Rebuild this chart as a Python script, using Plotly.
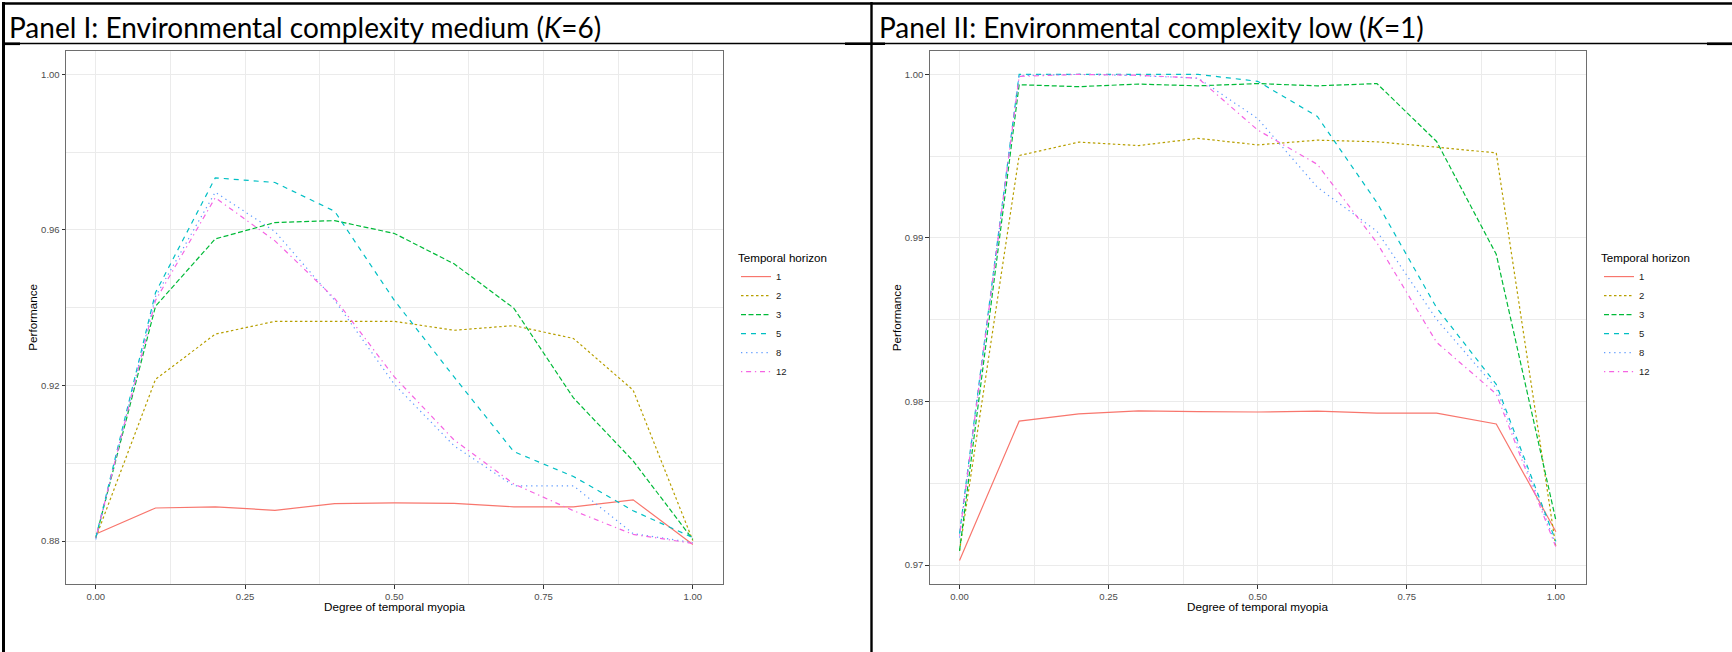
import plotly.graph_objects as go

# Degree of temporal myopia (x values shared by every series)
myopia = [0.0, 0.1, 0.2, 0.3, 0.4, 0.5, 0.6, 0.7, 0.8, 0.9, 1.0]

horizons = ["1", "2", "3", "5", "8", "12"]

# Panel I: environmental complexity medium (K=6)
k6_h1 = [0.8818, 0.8885, 0.8888, 0.8879, 0.8896, 0.8898, 0.8897, 0.8888, 0.8888, 0.8906, 0.8791]
k6_h2 = [0.8809, 0.9216, 0.9332, 0.9365, 0.9365, 0.9365, 0.9342, 0.9354, 0.9321, 0.9188, 0.8801]
k6_h3 = [0.8809, 0.9404, 0.9577, 0.9619, 0.9624, 0.9591, 0.9513, 0.9399, 0.9168, 0.9006, 0.8804]
k6_h5 = [0.8809, 0.9439, 0.9734, 0.9722, 0.9648, 0.9419, 0.9222, 0.9030, 0.8966, 0.8878, 0.8809]
k6_h8 = [0.8804, 0.9429, 0.9697, 0.9596, 0.9419, 0.9203, 0.9045, 0.8942, 0.8942, 0.8819, 0.8796]
k6_h12 = [0.8809, 0.9419, 0.9683, 0.9572, 0.9424, 0.9222, 0.9060, 0.8947, 0.8878, 0.8817, 0.8794]

# Panel II: environmental complexity low (K=1)
k1_h1 = [0.97028, 0.97880, 0.97924, 0.97943, 0.97938, 0.97936, 0.97941, 0.97929, 0.97929, 0.97863, 0.97204]
k1_h2 = [0.97087, 0.99504, 0.99586, 0.99565, 0.99609, 0.99569, 0.99598, 0.99588, 0.99555, 0.99520, 0.97110]
k1_h3 = [0.97087, 0.99937, 0.99925, 0.99941, 0.99930, 0.99944, 0.99930, 0.99944, 0.99590, 0.98900, 0.97274]
k1_h5 = [0.97192, 1.00000, 1.00000, 1.00000, 1.00000, 0.99958, 0.99743, 0.99216, 0.98573, 0.98105, 0.97145]
k1_h8 = [0.97168, 0.99993, 1.00000, 0.99993, 0.99977, 0.99730, 0.99310, 0.99041, 0.98502, 0.98081, 0.97122]
k1_h12 = [0.97180, 0.99988, 1.00000, 0.99995, 0.99977, 0.99660, 0.99450, 0.98970, 0.98362, 0.98046, 0.97110]

k6_series = [k6_h1, k6_h2, k6_h3, k6_h5, k6_h8, k6_h12]
k1_series = [k1_h1, k1_h2, k1_h3, k1_h5, k1_h8, k1_h12]

x_ticks = [0.0, 0.25, 0.5, 0.75, 1.0]
x_tick_text = ["0.00", "0.25", "0.50", "0.75", "1.00"]
x_minor = [0.125, 0.375, 0.625, 0.875]
k6_y_ticks = [0.88, 0.92, 0.96, 1.00]
k6_y_tick_text = ["0.88", "0.92", "0.96", "1.00"]
k6_y_minor = [0.90, 0.94, 0.98]
k1_y_ticks = [0.97, 0.98, 0.99, 1.00]
k1_y_tick_text = ["0.97", "0.98", "0.99", "1.00"]
k1_y_minor = [0.975, 0.985, 0.995]

# ggplot2 default hue palette and linetype sequence
colors = ["#F8766D", "#B79F00", "#00BA38", "#00BFC4", "#619CFF", "#F564E3"]
dashes = ["solid", "2.5px,2.5px", "5px,2.5px", "5px,5px", "1.3px,3.8px",
          "1.3px,3.8px,5px,3.8px"]

W, H = 1732, 652


def px_x(v):
    return v / W


def px_y(v):
    return 1 - v / H


fig = go.Figure()

for i, name in enumerate(horizons):
    fig.add_trace(go.Scatter(
        x=myopia, y=k6_series[i], mode="lines", name=name,
        line=dict(color=colors[i], dash=dashes[i], width=1.2),
        xaxis="x", yaxis="y", legend="legend", legendgroup="a" + name,
    ))
for i, name in enumerate(horizons):
    fig.add_trace(go.Scatter(
        x=myopia, y=k1_series[i], mode="lines", name=name,
        line=dict(color=colors[i], dash=dashes[i], width=1.2),
        xaxis="x2", yaxis="y2", legend="legend2", legendgroup="b" + name,
    ))

tick_font = dict(family="Liberation Sans, Arial, sans-serif", size=9.5, color="#4D4D4D")
grid = "#EBEBEB"
border = "#6E6E6E"

common_x = dict(
    range=[-0.05, 1.05], tickvals=x_ticks, ticktext=x_tick_text,
    showgrid=True, gridcolor=grid, gridwidth=1.1,
    minor=dict(tickvals=x_minor, showgrid=True, gridcolor=grid, gridwidth=0.6, ticks=""),
    ticks="outside", ticklen=3.5, tickcolor="#333333", tickwidth=1,
    showline=True, linecolor=border, linewidth=1, mirror=True,
    zeroline=False, tickfont=tick_font, fixedrange=True,
)
common_y = dict(
    showgrid=True, gridcolor=grid, gridwidth=1.1,
    ticks="outside", ticklen=3.5, tickcolor="#333333", tickwidth=1,
    showline=True, linecolor=border, linewidth=1, mirror=True,
    zeroline=False, tickfont=tick_font, fixedrange=True,
)

y_dom = [px_y(584.2), px_y(50.7)]

fig.update_layout(
    width=W, height=H,
    margin=dict(l=0, r=0, t=0, b=0),
    paper_bgcolor="white", plot_bgcolor="white",
    showlegend=True,
    xaxis=dict(domain=[px_x(66), px_x(722.7)], anchor="y", **common_x),
    yaxis=dict(domain=y_dom, anchor="x", range=[0.8689, 1.0061],
               tickvals=k6_y_ticks, ticktext=k6_y_tick_text,
               minor=dict(tickvals=k6_y_minor, showgrid=True, gridcolor=grid,
                          gridwidth=0.6, ticks=""),
               **common_y),
    xaxis2=dict(domain=[px_x(929.7), px_x(1585.7)], anchor="y2", **common_x),
    yaxis2=dict(domain=y_dom, anchor="x2", range=[0.96883, 1.00145],
                tickvals=k1_y_ticks, ticktext=k1_y_tick_text,
                minor=dict(tickvals=k1_y_minor, showgrid=True, gridcolor=grid,
                           gridwidth=0.6, ticks=""),
                **common_y),
)

legend_style = dict(
    title=dict(text="Temporal horizon",
               font=dict(family="Liberation Sans, Arial, sans-serif", size=11.6, color="#000000")),
    font=dict(family="Liberation Sans, Arial, sans-serif", size=9.5, color="#1A1A1A"),
    bgcolor="rgba(0,0,0,0)", borderwidth=0,
    xanchor="left", yanchor="top", yref="paper",
    traceorder="grouped", tracegroupgap=0, itemwidth=30,
)
fig.update_layout(
    legend=dict(x=px_x(736), y=px_y(247), **legend_style),
    legend2=dict(x=px_x(1599), y=px_y(247), **legend_style),
)

title_font = dict(family="Lato, Open Sans, sans-serif", size=28, color="#000000")
axis_title_font = dict(family="Liberation Sans, Arial, sans-serif", size=11.7, color="#000000")

annotations = [
    dict(text="Panel I: Environmental complexity medium (<i>K</i>=6)",
         x=px_x(7), y=px_y(26.5), xanchor="left", yanchor="middle", font=title_font),
    dict(text="Panel II: Environmental complexity low (<i>K</i>=1)",
         x=px_x(877), y=px_y(26.5), xanchor="left", yanchor="middle", font=title_font),
    dict(text="Degree of temporal myopia", x=px_x(394.4), y=px_y(606.4),
         xanchor="center", yanchor="middle", font=axis_title_font),
    dict(text="Degree of temporal myopia", x=px_x(1257.7), y=px_y(606.4),
         xanchor="center", yanchor="middle", font=axis_title_font),
    dict(text="Performance", x=px_x(32.3), y=px_y(317.5), textangle=-90,
         xanchor="center", yanchor="middle", font=axis_title_font),
    dict(text="Performance", x=px_x(896.7), y=px_y(317.5), textangle=-90,
         xanchor="center", yanchor="middle", font=axis_title_font),
]
for a in annotations:
    a.update(xref="paper", yref="paper", showarrow=False)
fig.update_layout(annotations=annotations)

# Table-style frame around the two panels
frame = [
    dict(x0=3, y0=3.5, x1=W, y1=3.5, w=2.6),          # top rule
    dict(x0=3.5, y0=2, x1=3.5, y1=H, w=3),            # left rule
    dict(x0=871.5, y0=2, x1=871.5, y1=H, w=2.4),      # column divider
    dict(x0=3, y0=43.5, x1=W, y1=43.5, w=1.4),        # rule under headings
    dict(x0=3, y0=43.8, x1=20, y1=43.8, w=2.6),
    dict(x0=845, y0=43.8, x1=885, y1=43.8, w=2.6),
    dict(x0=1707, y0=43.8, x1=W, y1=43.8, w=2.6),
]
shapes = []
for s in frame:
    shapes.append(dict(type="line", xref="paper", yref="paper",
                       x0=px_x(s["x0"]), x1=px_x(s["x1"]),
                       y0=px_y(s["y0"]), y1=px_y(s["y1"]),
                       line=dict(color="#000000", width=s["w"])))
fig.update_layout(shapes=shapes)

fig.write_html("out.html", config={"displayModeBar": False})
